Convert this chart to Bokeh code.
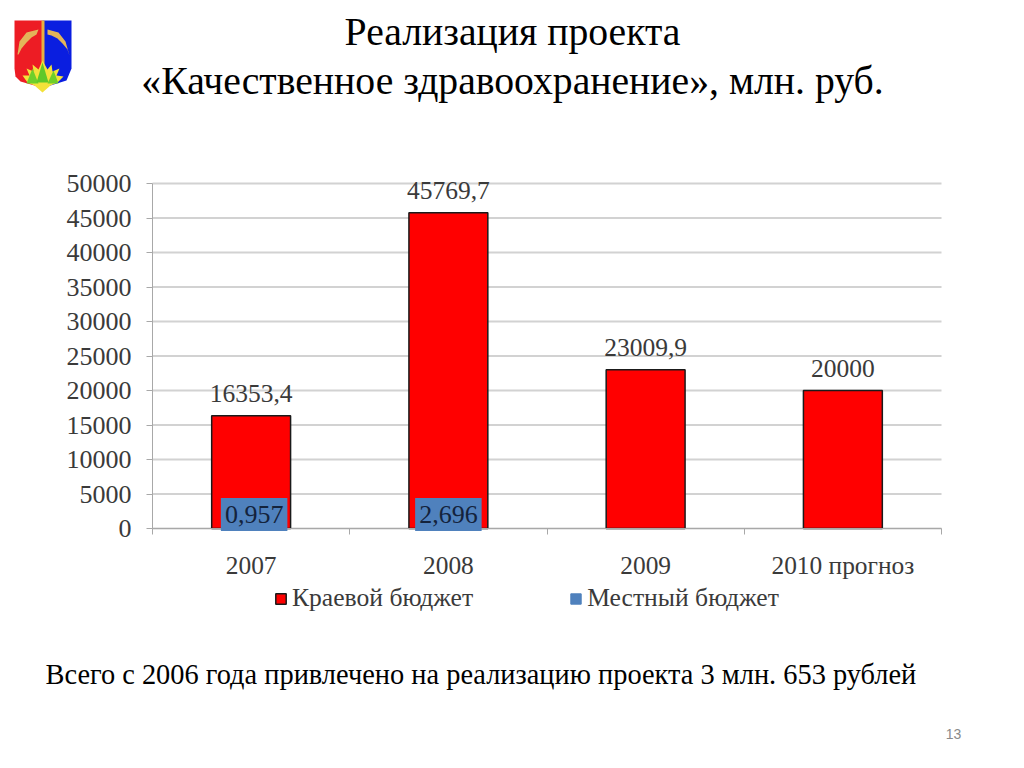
from bokeh.embed import file_html
from bokeh.models import ColumnDataSource, FixedTicker, Label, LabelSet, Legend, LegendItem, PolyAnnotation
from bokeh.plotting import figure
from bokeh.resources import INLINE

years = ["2007", "2008", "2009", "2010 прогноз"]
regional = [16353.4, 45769.7, 23009.9, 20000]
local = [0.957, 2.696, None, None]
regional_labels = ["16353,4", "45769,7", "23009,9", "20000"]
local_labels = ["0,957", "2,696"]
y_ticks = list(range(0, 50001, 5000))

SERIF = "Liberation Serif"
TEXT = "#3a3a3a"
GRID = "#d2d2d2"
AXIS = "#a8a8a8"
WIDTH = 1008
HEIGHT = 752
# where the chart sits on the slide, in pixels
LEFT, RIGHT, TOP, BASE = 152, 941, 183, 528
PX_X = 4 / (RIGHT - LEFT)
PX_Y = 50000 / (BASE - TOP)

# the frame fills the whole slide, so the headings and legend around the chart are not clipped
p = figure(width=WIDTH, height=HEIGHT,
           x_range=(-LEFT * PX_X, (WIDTH - LEFT) * PX_X),
           y_range=((BASE - HEIGHT) * PX_Y, BASE * PX_Y),
           output_backend="svg", toolbar_location=None, min_border=0)
p.outline_line_color = None
p.grid.visible = False
# grid bounds only limit the tick direction, so the lines are drawn to the chart width here
p.segment(x0=0, x1=len(years), y0=y_ticks, y1=y_ticks, line_color=GRID, line_width=2, level="underlay")

centers = [i + 0.5 for i in range(len(years))]
p.xaxis.fixed_location = 0
p.xaxis.bounds = (0, 4)
p.xaxis.ticker = FixedTicker(ticks=centers, minor_ticks=list(range(len(years) + 1)))
p.xaxis.major_label_overrides = dict(zip(centers, years))
p.xaxis.axis_line_color = AXIS
p.xaxis.major_tick_line_color = None
p.xaxis.major_tick_out = 0
p.xaxis.major_tick_in = 0
p.xaxis.minor_tick_line_color = AXIS
p.xaxis.minor_tick_out = 6
p.xaxis.minor_tick_in = 0
p.xaxis.major_label_standoff = 16
p.yaxis.fixed_location = 0
p.yaxis.bounds = (0, 50000)
p.yaxis.ticker = FixedTicker(ticks=y_ticks)
p.yaxis.minor_tick_line_color = None
p.yaxis.major_tick_line_color = AXIS
p.yaxis.major_tick_out = 6
p.yaxis.major_tick_in = 0
p.yaxis.axis_line_color = AXIS
p.yaxis.major_label_standoff = 15
for ax, size in ((p.xaxis[0], "25.4px"), (p.yaxis[0], "26px")):
    ax.major_label_text_font = SERIF
    ax.major_label_text_font_size = size
    ax.major_label_text_color = TEXT
    ax.major_label_text_font_style = "normal"

source = ColumnDataSource(dict(x=centers, regional=regional, local=local,
                               label=regional_labels))
red = p.vbar(x="x", top="regional", width=0.4, source=source,
             fill_color="#ff0000", line_color="#1a1a1a", line_width=1.5)
blue = p.vbar(x="x", top="local", width=0.34, source=source,
              fill_color="#4f81bd", line_color="#4f81bd")

p.add_layout(LabelSet(x="x", y="regional", text="label", source=source, y_offset=14,
                      text_align="center", text_baseline="bottom", text_font=SERIF,
                      text_font_size="25.5px", text_color=TEXT))

for cx, v, s, dx in zip(centers, local, local_labels, [3, 0]):
    p.add_layout(Label(x=cx, y=v, text=s, x_offset=dx, y_offset=14, padding=(4, 8),
                       text_align="center", text_baseline="middle", text_font=SERIF,
                       text_font_size="26px", text_color="#14233c",
                       background_fill_color="#4f81bd"))

legend = Legend(items=[LegendItem(label="Краевой бюджет", renderers=[red]),
                       LegendItem(label="Местный бюджет", renderers=[blue])],
                orientation="horizontal", location=(274, 139), border_line_color=None,
                background_fill_alpha=0, glyph_width=13, glyph_height=13, spacing=96,
                label_standoff=5, margin=0, padding=0,
                label_text_font=SERIF, label_text_font_size="25.6px", label_text_color=TEXT)
p.add_layout(legend, "center")


def text(s, x, y, size, align="center", font=SERIF, color="black"):
    # y counted from the top of the slide
    p.add_layout(Label(x=x, y=HEIGHT - y, x_units="screen", y_units="screen", text=s,
                       text_align=align, text_baseline="middle", text_font=font,
                       text_font_size=size, text_color=color))


text("Реализация проекта", 512, 31, "39.7px")
text("«Качественное здравоохранение», млн. руб.", 512, 80, "39.7px")
text("Всего с 2006 года привлечено на реализацию проекта 3 млн. 653 рублей", 45, 674, "28.4px", "left")
text("13", 953, 733, "14px", "center", "Liberation Sans", "#8a8a8a")

# town arms, top left
arms = [
    ([14, 42, 42, 34, 20, 15, 14], [20, 20, 85, 85, 81, 76, 68], "#ed1c24"),
    ([42, 71, 71, 66, 50, 42], [20, 20, 68, 80, 85, 85], "#0a1ee0"),
    ([17, 19, 26, 38, 36, 31, 26, 21, 18], [54, 41, 32, 29, 34, 37, 42, 48, 54], "#e3b45a"),
    ([47, 58, 65, 69, 67, 62, 57, 51, 47], [29, 32, 41, 55, 49, 43, 38, 35, 34], "#e3b45a"),
    ([41, 44, 44, 41], [20, 20, 75, 75], "#e8b040"),
    ([22, 29, 26, 33, 32, 38, 42, 47, 51, 52, 59, 56, 63, 57, 50, 42, 34, 27],
     [75, 75, 68, 71, 64, 69, 60, 69, 64, 71, 68, 75, 76, 82, 85, 92, 85, 82], "#f3e23a"),
    ([26, 32, 38], [83, 68, 83], "#6fcf2a"),
    ([36, 42, 48], [82, 62, 82], "#5fc82a"),
    ([47, 53, 58], [83, 70, 83], "#6fcf2a"),
]
for xs, ys, color in arms:
    p.add_layout(PolyAnnotation(xs=xs, ys=[HEIGHT - y for y in ys], xs_units="screen", ys_units="screen",
                                fill_color=color, fill_alpha=1, line_color=None))

open("out.html", "w").write(file_html(p, INLINE))
